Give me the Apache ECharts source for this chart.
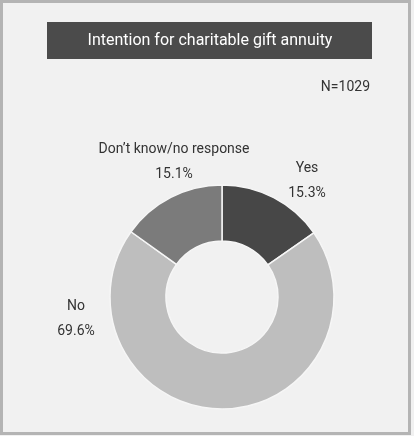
<!DOCTYPE html>
<html>
<head>
<meta charset="utf-8">
<script src="https://cdn.jsdelivr.net/npm/echarts@6/dist/echarts.min.js"></script>
<style>
  html, body { margin: 0; padding: 0; background: #ffffff; }
  #chart_annuity { width: 414px; height: 436px; }
</style>
</head>
<body>
<div id="chart_annuity"></div>
<script>
var categories = ['Yes', 'No', "Don\u2019t know/no response"];
var shares = [15.3, 69.6, 15.1];
var sliceColors = ['#474747', '#bebebe', '#7b7b7b'];
var sampleNote = 'N=1029';
var chartTitle = 'Intention for charitable gift annuity';

var fontName = 'Roboto, sans-serif';

var chartAnnuity = echarts.init(document.getElementById('chart_annuity'));

// label spots are placed by hand, same as the source layout
var labelSpots = [
    { x: 307, y: 181 },
    { x: 76, y: 319 },
    { x: 174, y: 162 }
];

var option = {
    backgroundColor: '#f1f1f1',
    graphic: [{
        type: 'rect',
        shape: { x: 1.5, y: 1.5, width: 408, height: 432 },
        style: { fill: 'none', stroke: '#b4b4b4', lineWidth: 3 },
        silent: true
    }, {
        type: 'rect',
        shape: { x: 47, y: 22, width: 325, height: 37 },
        style: { fill: '#4b4b4b' },
        silent: true
    }, {
        type: 'text',
        x: 210,
        y: 40.5,
        style: {
            text: chartTitle,
            fill: '#ffffff',
            font: '16px ' + fontName,
            align: 'center',
            verticalAlign: 'middle'
        }
    }, {
        type: 'text',
        x: 370,
        y: 87,
        style: {
            text: sampleNote,
            fill: '#333333',
            font: '14px ' + fontName,
            align: 'right',
            verticalAlign: 'middle'
        }
    }],
    series: [{
        name: 'Intention',
        type: 'pie',
        center: [222, 297],
        radius: [56, 112],
        startAngle: 90,
        clockwise: true,
        itemStyle: {
            borderColor: '#f6f6f6',
            borderWidth: 1.5
        },
        label: {
            show: true,
            position: 'outside',
            formatter: function(p) {
                return p.name + '\n' + p.value.toFixed(1) + '%';
            },
            color: '#333333',
            fontFamily: fontName,
            fontSize: 14,
            lineHeight: 25,
            align: 'center',
            overflow: 'none'
        },
        labelLine: { show: false },
        labelLayout: function(p) {
            var s = labelSpots[p.dataIndex];
            return { x: s.x, y: s.y, align: 'center', verticalAlign: 'middle' };
        },
        emphasis: { disabled: true },
        data: categories.map(function(c, i) {
            return { name: c, value: shares[i], itemStyle: { color: sliceColors[i] } };
        })
    }],
    animation: false
};
chartAnnuity.setOption(option);
</script>
</body>
</html>
